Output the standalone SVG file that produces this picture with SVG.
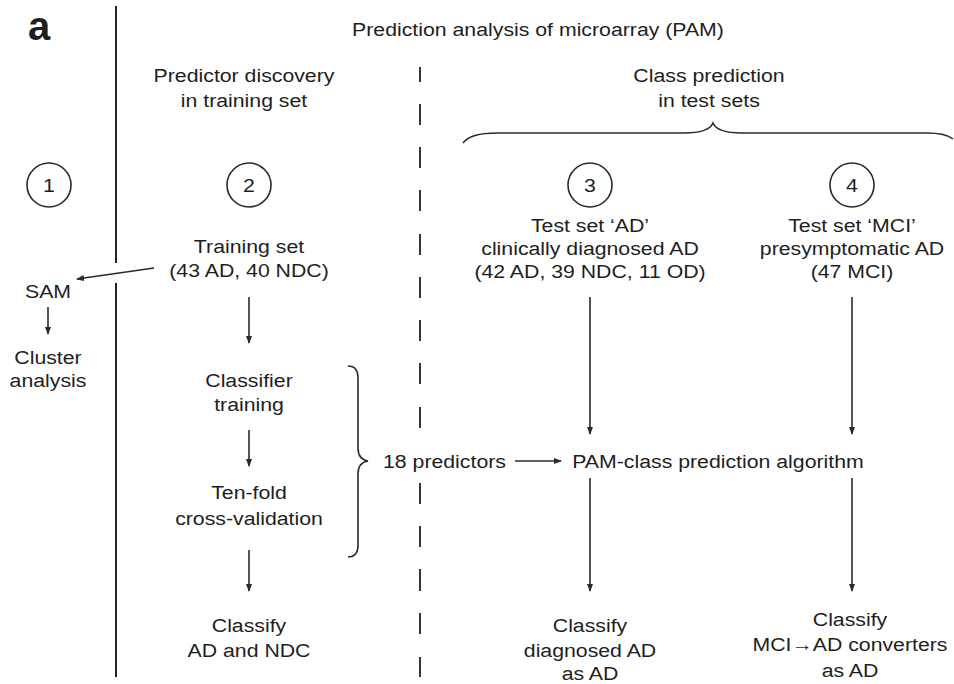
<svg xmlns="http://www.w3.org/2000/svg" width="954" height="684" viewBox="0 0 954 684">
<defs>
<marker id="ah" markerWidth="8" markerHeight="6" refX="7" refY="3" orient="auto" markerUnits="userSpaceOnUse"><path d="M0,0 L8,3 L0,6 z" fill="#2a2a2a"/></marker>
<style>
text{font-family:"Liberation Sans",Arial,sans-serif;font-size:19px;fill:#1e1e1e;text-anchor:middle}
.st{text-anchor:start}
.lbl{font-size:40px;font-weight:bold;text-anchor:start}
.ln{stroke:#2a2a2a;stroke-width:1.6;fill:none}
.ar{stroke:#2a2a2a;stroke-width:1.6;fill:none;marker-end:url(#ah)}
.cir{fill:none;stroke:#2a2a2a;stroke-width:1.6}
.dash{stroke:#333;stroke-width:2}
.sep{stroke:#222;stroke-width:2}
</style>
</defs>
<rect width="954" height="684" fill="#ffffff"/>

<g id="panel-label"><text class="lbl" x="28" y="40">a</text></g>

<g id="separators">
<line class="sep" x1="116" y1="6" x2="116" y2="263"/>
<line class="sep" x1="116" y1="283" x2="116" y2="677"/>
<g class="dash">
<line x1="420" y1="67" x2="420" y2="82"/>
<line x1="420" y1="104" x2="420" y2="125"/>
<line x1="420" y1="147" x2="420" y2="168"/>
<line x1="420" y1="190" x2="420" y2="211"/>
<line x1="420" y1="234" x2="420" y2="255"/>
<line x1="420" y1="277" x2="420" y2="298"/>
<line x1="420" y1="320" x2="420" y2="341"/>
<line x1="420" y1="363" x2="420" y2="384"/>
<line x1="420" y1="407" x2="420" y2="428"/>
<line x1="420" y1="483" x2="420" y2="504"/>
<line x1="420" y1="526" x2="420" y2="547"/>
<line x1="420" y1="569" x2="420" y2="591"/>
<line x1="420" y1="613" x2="420" y2="634"/>
<line x1="420" y1="657" x2="420" y2="677"/>
</g>
</g>

<g id="title"><g transform="translate(538,0) scale(1.12,1)"><text x="0" y="36">Prediction analysis of microarray (PAM)</text></g></g>

<g id="hdr-discovery"><g transform="translate(244,0) scale(1.12,1)"><text x="0" y="82">Predictor discovery</text><text x="0" y="107">in training set</text></g></g>
<g id="hdr-prediction"><g transform="translate(709,0) scale(1.12,1)"><text x="0" y="82">Class prediction</text><text x="0" y="107">in test sets</text></g></g>

<g id="braces">
<path class="ln" d="M463,143 C468,136 480,133 497,133 L684,133 C700,133 710,130 713,123 C716,130 726,133 742,133 L927,133 C940,133 948,135 953,139"/>
<path class="ln" d="M348,366 C355,366 358,370 358,378 L358,448 C358,456 362,460 368,461 C362,462 358,466 358,474 L358,545 C358,553 355,557 348,557"/>
</g>

<g id="step1"><circle class="cir" cx="49" cy="185" r="22"/><g transform="translate(49,0) scale(1.12,1)"><text x="0" y="192">1</text></g></g>
<g id="step2"><circle class="cir" cx="249" cy="185" r="22"/><g transform="translate(249,0) scale(1.12,1)"><text x="0" y="192">2</text></g></g>
<g id="step3"><circle class="cir" cx="590" cy="185" r="22"/><g transform="translate(590,0) scale(1.12,1)"><text x="0" y="192">3</text></g></g>
<g id="step4"><circle class="cir" cx="852" cy="185" r="22"/><g transform="translate(852,0) scale(1.12,1)"><text x="0" y="192">4</text></g></g>

<g id="sam"><g transform="translate(48,0) scale(1.12,1)"><text x="0" y="298">SAM</text></g></g>
<g id="cluster"><g transform="translate(48,0) scale(1.12,1)"><text x="0" y="364">Cluster</text><text x="0" y="387">analysis</text></g></g>

<g id="training-set"><g transform="translate(249,0) scale(1.12,1)"><text x="0" y="253">Training set</text><text x="0" y="277">(43 AD, 40 NDC)</text></g></g>
<g id="classifier-training"><g transform="translate(249,0) scale(1.12,1)"><text x="0" y="387">Classifier</text><text x="0" y="411">training</text></g></g>
<g id="cross-validation"><g transform="translate(249,0) scale(1.12,1)"><text x="0" y="499">Ten-fold</text><text x="0" y="525">cross-validation</text></g></g>
<g id="classify-ad-ndc"><g transform="translate(249,0) scale(1.12,1)"><text x="0" y="632">Classify</text><text x="0" y="657">AD and NDC</text></g></g>

<g id="predictors"><g transform="translate(383,0) scale(1.12,1)"><text class="st" x="0" y="468">18 predictors</text></g></g>
<g id="pam-algorithm"><g transform="translate(718,0) scale(1.12,1)"><text x="0" y="468">PAM-class prediction algorithm</text></g></g>

<g id="test-ad"><g transform="translate(590,0) scale(1.12,1)"><text x="0" y="232">Test set ‘AD’</text><text x="0" y="255">clinically diagnosed AD</text><text x="0" y="278">(42 AD, 39 NDC, 11 OD)</text></g></g>
<g id="test-mci"><g transform="translate(852,0) scale(1.12,1)"><text x="0" y="232">Test set ‘MCI’</text><text x="0" y="255">presymptomatic AD</text><text x="0" y="278">(47 MCI)</text></g></g>

<g id="classify-diagnosed"><g transform="translate(590,0) scale(1.12,1)"><text x="0" y="632">Classify</text><text x="0" y="657">diagnosed AD</text><text x="0" y="680">as AD</text></g></g>
<g id="classify-converters"><g transform="translate(850,0) scale(1.12,1)"><text x="0" y="626">Classify</text><text x="0" y="651">MCI→AD converters</text><text x="0" y="677">as AD</text></g></g>

<g id="connectors">
<line class="ar" x1="154" y1="268" x2="77" y2="279"/>
<line class="ar" x1="48" y1="307" x2="48" y2="334"/>
<line class="ar" x1="249" y1="297" x2="249" y2="343"/>
<line class="ar" x1="249" y1="430" x2="249" y2="466"/>
<line class="ar" x1="249" y1="550" x2="249" y2="591"/>
<line class="ar" x1="515" y1="461" x2="561" y2="461"/>
<line class="ar" x1="590" y1="297" x2="590" y2="434"/>
<line class="ar" x1="852" y1="297" x2="852" y2="434"/>
<line class="ar" x1="590" y1="478" x2="590" y2="591"/>
<line class="ar" x1="852" y1="478" x2="852" y2="591"/>
</g>
</svg>
